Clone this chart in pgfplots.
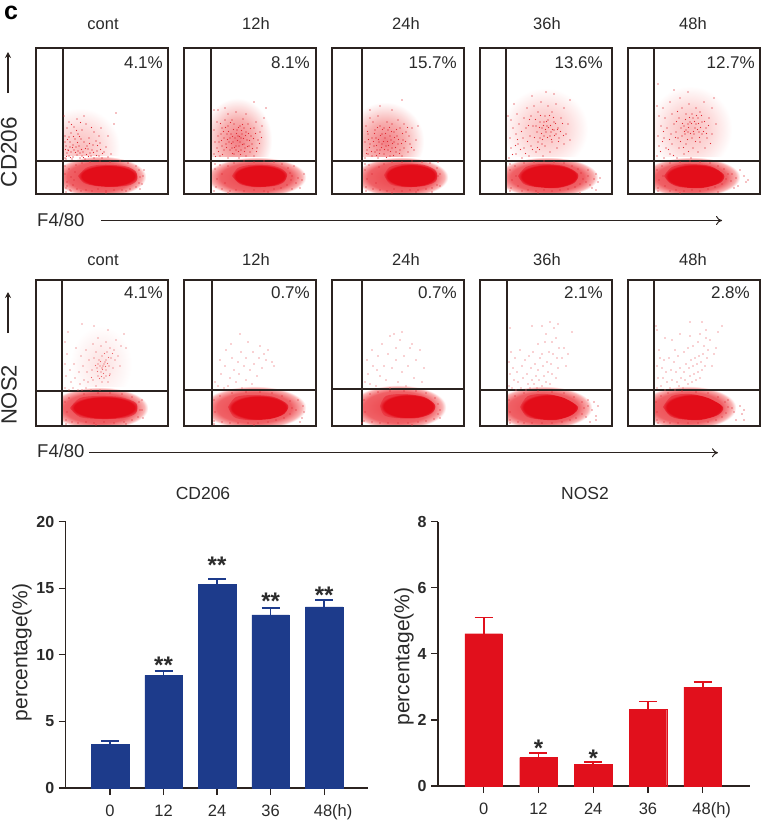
\documentclass[border=0pt]{standalone}
\usepackage{fontspec}
\setmainfont{Liberation Sans}
\usepackage{pgfplots}
\pgfplotsset{compat=1.18}
\usetikzlibrary{arrows.meta}
\definecolor{ink}{HTML}{2B2320}
\definecolor{txt}{HTML}{2A2A2A}
\definecolor{fdot}{HTML}{DF2B34}
\definecolor{fpink}{HTML}{EA6468}
\definecolor{cdblue}{HTML}{1D3B8B}
\definecolor{nosred}{HTML}{E1101C}
\pgfdeclareradialshading{coreblob}{\pgfpointorigin}{rgb(0bp)=(0.89,0.05,0.10); rgb(22bp)=(0.89,0.05,0.10); rgb(25bp)=(0.92,0.22,0.26); rgb(50bp)=(0.92,0.22,0.26)}
\pgfdeclareradialshading{fringe}{\pgfpointorigin}{rgb(0bp)=(0.92,0.24,0.27); rgb(18bp)=(0.94,0.38,0.40); rgb(23bp)=(0.98,0.70,0.70); rgb(25bp)=(1,1,1); rgb(50bp)=(1,1,1)}
\pgfdeclareradialshading{cloudA}{\pgfpointorigin}{rgb(0bp)=(0.95,0.50,0.52); rgb(12bp)=(0.97,0.68,0.68); rgb(25bp)=(1,1,1); rgb(50bp)=(1,1,1)}
\pgfdeclareradialshading{cloudB}{\pgfpointorigin}{rgb(0bp)=(0.98,0.74,0.74); rgb(12bp)=(0.99,0.84,0.84); rgb(25bp)=(1,1,1); rgb(50bp)=(1,1,1)}
\pgfdeclareradialshading{cloudC}{\pgfpointorigin}{rgb(0bp)=(0.99,0.88,0.88); rgb(25bp)=(1,1,1); rgb(50bp)=(1,1,1)}
\pgfplotsset{
  flow/.style={anchor=south west,scale only axis,width=132pt,height=146pt,
    xmin=0,xmax=132,ymin=0,ymax=146,ticks=none,axis on top,
    axis line style={ink,line width=1.3pt}},
  bars/.style={anchor=south west,scale only axis,axis lines=left,
    axis line style={ink,line width=1.2pt,-},
    tick style={ink,line width=1.2pt},tick align=outside,major tick length=7pt,
    xtick={0,1,2,3,4},ytick pos=left,xtick pos=bottom,
    ymin=0,clip=false,
    yticklabel style={font=\fontsize{16}{16}\selectfont\bfseries,text=txt,xshift=-1pt},
    xticklabel style={font=\fontsize{16.5}{16}\selectfont,text=txt,yshift=-6pt},
    ylabel style={font=\fontsize{21}{21}\selectfont,text=txt,anchor=center},
    /pgf/number format/assume math mode=true},
}
\tikzset{
  blob/.style={draw=none,no marks,shade,shading=#1},
  core/.style={draw=none,no marks,smooth,shade,shading=coreblob},
  dots/.style={only marks,mark=*,mark size=0.42pt,fdot,mark options={draw=none,fill=fdot}},
  lite/.style={only marks,mark=*,mark size=0.42pt,fpink,mark options={draw=none,fill=fpink}},
  cover/.style={draw=none,fill=white,no marks},
  gate/.style={ink,line width=1.3pt,no marks},
  lab/.style={text=txt,inner sep=0pt},
  star/.style={font=\fontsize{24}{24}\selectfont\bfseries,text=txt},
}
\newcommand{\fs}[1]{\fontsize{#1}{#1}\selectfont}
\begin{document}
\begin{tikzpicture}[x=1pt,y=1pt]
\path[use as bounding box] (0,-827) rectangle (762,0);

% --- CD206 row
\begin{axis}[flow,at={(36pt,-194pt)}]
\addplot[blob=cloudB] coordinates {(4,6)(84,6)(84,86)(4,86)(4,6)};
\addplot[blob=fringe] coordinates {(18,-3)(110,-3)(110,38)(18,38)(18,-3)};
\addplot[core] coordinates {(42,18)(50,26)(62,29)(78,29)(92,27)(100,22)(101,14)(94,9)(78,7)(60,8)(48,11)(42,18)};
\addplot[dots] coordinates {(29,36)(31,41)(33,38)(36,35)(38,44)(30,48)(34,52)(41,39)(44,36)(47,42)(43,48)(39,55)(29,58)(35,61)(42,60)(48,52)(52,45)(55,38)(58,36)(61,43)(57,49)(53,56)(46,64)(38,67)(31,66)(50,70)(58,62)(64,51)(68,42)(72,37)(66,36)(63,58)(70,47)(75,40)(49,35)(37,49)(32,44)(45,55)(54,41)(60,53)(33,72)(41,75)(48,78)(65,66)(72,58)(78,70)(80,81)(29,52)(35,42)(40,47)(46,38)(51,48)(30,35)(37,37)(42,43)(33,57)(56,44)(63,38)(34,47)(44,41)(28,78)
(30.5,37.5)(32.5,43.5)(34.5,36.5)(39.5,41.5)(36.5,46.5)(41.5,51.5)(45.5,44.5)(47.5,36.5)(50.5,39.5)(52.5,37.5)(29.5,44.5)(31.5,54.5)(37.5,57.5)(43.5,57.5)(49.5,45.5)(53.5,50.5)(57.5,41.5)(60.5,38.5)(64.5,44.5)(66.5,40.5)(40.5,63.5)(35.5,69.5)(44.5,71.5)(55.5,66.5)(61.5,48.5)
(29,20)(31,12)(30,6)(33,25)(35,17)(37,9)(34,4)(40,29)(39,22)(38,14)(41,5)(45,3)(50,4)(56,3)(62,5)(70,3)(78,4)(86,4)(94,5)(100,7)(103,11)(104,17)(103,24)(100,28)(92,31)(84,33)(74,32)(64,33)(54,32)(46,31)(106,10)(108,24)(30,2)(70,1)(90,3)(104,5)(107,18)(29,28)(31,8)(35,3)};
\addplot[cover] coordinates {(0,0)(27,0)(27,146)(0,146)(0,0)};
\addplot[gate] coordinates {(27,0)(27,146)};
\addplot[gate] coordinates {(0,33)(132,33)};
\end{axis}

\begin{axis}[flow,at={(184pt,-194pt)}]
\addplot[blob=cloudA] coordinates {(18,12)(88,12)(88,96)(18,96)(18,12)};
\addplot[blob=fringe] coordinates {(22,-3)(122,-3)(122,37)(22,37)(22,-3)};
\addplot[core] coordinates {(48,18)(54,26)(66,29)(84,29)(96,26)(103,20)(100,12)(90,8)(70,7)(56,10)(48,18)};
\addplot[dots] coordinates {(30,40)(33,46)(31,52)(34,58)(30,64)(33,72)(30,84)(36,38)(38,48)(40,56)(38,66)(41,74)(44,36)(46,44)(45,52)(47,60)(44,68)(48,74)(50,40)(52,48)(51,56)(53,64)(50,70)(55,36)(57,44)(56,52)(58,60)(56,68)(59,75)(62,38)(61,46)(63,54)(62,62)(64,70)(66,42)(68,50)(67,58)(70,66)(72,72)(70,38)(73,46)(74,54)(76,62)(78,68)(80,76)(82,86)(70,92)(42,50)(49,52)(54,58)(48,46)(43,60)(60,50)(52,44)(35,52)(46,56)(57,56)(40,44)(65,48)(37,60)(55,48)(60,66)(44,80)(52,82)(62,80)(34,84)(41,86)
(31.5,37.5)(34.5,42.5)(37.5,53.5)(39.5,62.5)(42.5,46.5)(43.5,54.5)(44.5,62.5)(46.5,71.5)(47.5,50.5)(48.5,57.5)(49.5,64.5)(50.5,46.5)(52.5,60.5)(53.5,53.5)(54.5,42.5)(54.5,66.5)(55.5,57.5)(57.5,63.5)(58.5,49.5)(59.5,55.5)(60.5,42.5)(61.5,58.5)(63.5,47.5)(64.5,60.5)(65.5,53.5)(66.5,65.5)(68.5,45.5)(69.5,55.5)(71.5,60.5)(72.5,42.5)(36.5,70.5)(41.5,66.5)(58.5,69.5)(75.5,50.5)(77.5,56.5)(48.5,40.5)(56.5,39.5)(38.5,39.5)
(31,25)(33,15)(32,7)(36,29)(38,20)(41,11)(38,5)(44,28)(46,3)(52,4)(60,3)(70,4)(80,3)(90,5)(97,6)(103,9)(107,14)(106,21)(108,18)(104,26)(98,30)(90,32)(80,33)(70,32)(60,33)(50,31)(110,28)(118,14)(116,6)(30,3)(44,1)(84,2)(108,5)(31,30)(120,20)(112,11)(114,16)};
\addplot[cover] coordinates {(0,0)(27,0)(27,146)(0,146)(0,0)};
\addplot[gate] coordinates {(27,0)(27,146)};
\addplot[gate] coordinates {(0,33)(132,33)};
\end{axis}

\begin{axis}[flow,at={(332pt,-194pt)}]
\addplot[blob=cloudA] coordinates {(14,14)(92,14)(92,92)(14,92)(14,14)};
\addplot[blob=fringe] coordinates {(22,-3)(116,-3)(116,37)(22,37)(22,-3)};
\addplot[core] coordinates {(52,19)(58,27)(72,30)(92,29)(104,23)(104,13)(92,8)(72,7)(58,10)(52,19)};
\addplot[dots] coordinates {(33,36)(35,44)(33,52)(36,60)(34,68)(38,76)(40,38)(42,48)(40,56)(43,64)(41,72)(46,36)(48,44)(47,52)(50,60)(48,68)(46,78)(52,40)(54,48)(53,56)(56,64)(55,72)(58,38)(60,46)(59,54)(62,62)(60,70)(64,42)(66,50)(65,58)(68,66)(66,74)(70,38)(72,46)(71,54)(74,62)(72,70)(76,42)(78,50)(77,58)(80,66)(82,44)(84,54)(56,44)(50,50)(44,56)(62,52)(38,50)(45,44)(58,58)(52,66)(36,40)(43,42)(68,44)(48,88)(70,94)(60,84)(86,68)(38,84)
(34.5,40.5)(37.5,46.5)(39.5,42.5)(41.5,52.5)(42.5,60.5)(44.5,38.5)(44.5,48.5)(45.5,66.5)(46.5,54.5)(47.5,40.5)(48.5,58.5)(49.5,46.5)(50.5,64.5)(51.5,52.5)(52.5,44.5)(53.5,60.5)(54.5,36.5)(55.5,52.5)(56.5,48.5)(57.5,66.5)(58.5,42.5)(59.5,62.5)(60.5,50.5)(61.5,38.5)(62.5,56.5)(63.5,46.5)(64.5,64.5)(66.5,54.5)(67.5,40.5)(69.5,50.5)(70.5,60.5)(73.5,52.5)(75.5,66.5)(79.5,46.5)(36.5,54.5)(35.5,62.5)
(33,24)(35,15)(34,7)(37,29)(40,20)(44,11)(41,5)(47,27)(48,4)(55,3)(62,5)(70,3)(78,4)(86,4)(94,5)(100,6)(105,9)(106,18)(105,26)(98,31)(90,32)(80,33)(70,32)(60,32)(52,30)(108,8)(106,32)(34,3)(60,1)(84,2)(100,2)(33,30)(108,20)};
\addplot[cover] coordinates {(0,0)(30,0)(30,146)(0,146)(0,0)};
\addplot[gate] coordinates {(30,0)(30,146)};
\addplot[gate] coordinates {(0,33)(132,33)};
\end{axis}

\begin{axis}[flow,at={(480pt,-194pt)}]
\addplot[blob=cloudB] coordinates {(22,24)(108,24)(108,106)(22,106)(22,24)};
\addplot[blob=fringe] coordinates {(16,-3)(118,-3)(118,37)(16,37)(16,-3)};
\addplot[core] coordinates {(38,18)(46,27)(62,30)(84,28)(98,20)(94,11)(78,6)(56,7)(44,10)(38,18)};
\addplot[dots] coordinates {(29,36)(31,46)(30,56)(33,66)(31,74)(36,40)(38,50)(36,60)(39,70)(37,80)(42,36)(44,46)(43,56)(46,66)(44,76)(47,86)(49,38)(51,48)(50,58)(53,68)(51,78)(54,88)(56,42)(58,52)(57,62)(60,72)(58,82)(61,92)(63,38)(65,48)(64,58)(67,68)(65,78)(68,88)(70,42)(72,52)(71,62)(74,72)(72,82)(76,90)(77,46)(79,56)(78,66)(81,76)(84,86)(84,50)(86,60)(88,70)(90,54)(66,62)(62,66)(70,58)(60,56)(68,74)(74,64)(64,72)(56,68)(76,60)(62,50)(34,90)(52,98)(66,102)(74,100)(90,94)(28,78)
(32.5,39.5)(35.5,48.5)(37.5,54.5)(40.5,44.5)(41.5,62.5)(45.5,40.5)(47.5,52.5)(48.5,68.5)(49.5,74.5)(52.5,44.5)(54.5,56.5)(55.5,74.5)(57.5,46.5)(59.5,66.5)(60.5,78.5)(61.5,60.5)(62.5,54.5)(63.5,68.5)(65.5,64.5)(66.5,72.5)(67.5,56.5)(68.5,66.5)(69.5,78.5)(70.5,68.5)(71.5,54.5)(72.5,64.5)(73.5,76.5)(74.5,58.5)(75.5,70.5)(77.5,64.5)(78.5,52.5)(80.5,62.5)(82.5,70.5)(83.5,58.5)(59.5,44.5)
(30,24)(32,14)(31,6)(35,28)(36,18)(38,8)(42,3)(48,4)(56,3)(64,4)(72,3)(80,4)(88,5)(95,7)(100,10)(103,15)(101,21)(98,25)(92,28)(84,31)(74,32)(64,33)(54,32)(44,31)(106,12)(108,18)(112,6)(116,20)(118,12)(108,24)(116,4)(120,16)(30,3)(58,1)(100,1)(30,30)(110,9)(114,15)};
\addplot[cover] coordinates {(0,0)(26,0)(26,146)(0,146)(0,0)};
\addplot[gate] coordinates {(26,0)(26,146)};
\addplot[gate] coordinates {(0,33)(132,33)};
\end{axis}

\begin{axis}[flow,at={(628pt,-194pt)}]
\addplot[blob=cloudB] coordinates {(20,22)(104,22)(104,108)(20,108)(20,22)};
\addplot[blob=fringe] coordinates {(14,-3)(112,-3)(112,37)(14,37)(14,-3)};
\addplot[core] coordinates {(36,18)(44,27)(60,30)(82,28)(96,19)(92,11)(74,6)(52,7)(42,11)(36,18)};
\addplot[dots] coordinates {(29,38)(31,48)(30,58)(33,68)(31,78)(29,88)(36,36)(38,46)(36,56)(39,66)(37,76)(35,86)(42,40)(44,50)(43,60)(46,70)(44,80)(42,92)(49,36)(51,46)(50,56)(53,66)(51,76)(54,86)(52,96)(56,40)(58,50)(57,60)(60,70)(58,80)(61,90)(63,36)(65,46)(64,56)(67,66)(65,76)(68,86)(70,42)(72,52)(71,62)(74,72)(72,82)(76,92)(77,46)(79,56)(78,66)(81,76)(84,86)(84,60)(88,70)(60,62)(56,68)(66,60)(62,72)(68,70)(58,64)(64,80)(54,58)(70,76)(48,62)(74,60)(60,102)(46,104)(30,110)(86,96)
(32.5,42.5)(34.5,52.5)(35.5,62.5)(40.5,44.5)(41.5,54.5)(45.5,38.5)(47.5,56.5)(48.5,72.5)(49.5,82.5)(52.5,52.5)(54.5,70.5)(55.5,46.5)(56.5,62.5)(57.5,74.5)(59.5,54.5)(60.5,66.5)(61.5,76.5)(62.5,60.5)(63.5,70.5)(65.5,62.5)(66.5,72.5)(67.5,52.5)(68.5,78.5)(69.5,64.5)(70.5,70.5)(71.5,56.5)(72.5,66.5)(73.5,78.5)(75.5,62.5)(76.5,72.5)(78.5,60.5)(80.5,68.5)(82.5,50.5)(60.5,42.5)
(29,24)(31,14)(30,6)(34,28)(35,18)(37,8)(42,3)(48,4)(56,3)(64,4)(72,3)(80,5)(87,7)(94,10)(98,15)(100,20)(96,25)(90,28)(82,31)(72,32)(62,33)(52,32)(42,31)(104,20)(110,8)(116,18)(118,12)(112,24)(106,6)(120,14)(30,3)(52,1)(90,2)(103,13)(108,16)};
\addplot[cover] coordinates {(0,0)(26,0)(26,146)(0,146)(0,0)};
\addplot[gate] coordinates {(26,0)(26,146)};
\addplot[gate] coordinates {(0,33)(132,33)};
\end{axis}

% --- NOS2 row
\begin{axis}[flow,at={(36pt,-426pt)}]
\addplot[blob=cloudC] coordinates {(34,24)(96,24)(96,100)(34,100)(34,24)};
\addplot[blob=fringe] coordinates {(14,-3)(112,-3)(112,39)(14,39)(14,-3)};
\addplot[core] coordinates {(34,18)(44,28)(62,30)(84,29)(100,23)(100,13)(88,8)(66,7)(44,9)(34,18)};
\addplot[lite] coordinates {(29,38)(30,50)(29,62)(31,72)(29,84)(33,36)(35,44)(34,56)(37,38)(39,48)(38,62)(40,78)(42,36)(44,42)(43,54)(46,36)(48,46)(47,60)(45,70)(50,38)(52,44)(51,54)(53,66)(50,76)(55,36)(57,46)(56,56)(58,68)(57,82)(60,40)(62,50)(61,58)(63,66)(60,74)(62,88)(64,36)(66,44)(65,54)(67,60)(66,70)(65,80)(68,48)(70,56)(69,64)(71,74)(70,84)(72,44)(74,52)(73,60)(75,68)(74,78)(72,96)(77,58)(79,66)(78,76)(80,86)(82,70)(84,60)(85,80)(88,92)(66,58)(68,62)(64,60)(70,50)(62,62)(70,66)(58,100)(46,102)(32,94)(90,78)
(63.5,47.5)(65.5,49.5)(67.5,52.5)(61.5,54.5)(64.5,64.5)(69.5,59.5)(71.5,62.5)(66.5,56.5)(73.5,50.5)(59.5,60.5)(55.5,48.5)(72.5,68.5)(76.5,72.5)(68.5,72.5)};
\addplot[dots] coordinates {(29,24)(31,14)(30,6)(33,28)(36,4)(42,3)(50,4)(58,3)(68,4)(78,3)(88,4)(96,6)(102,9)(104,16)(103,24)(96,29)(86,32)(74,33)(62,33)(48,32)(106,16)(107,8)(30,2)(60,1)(90,2)(106,26)};
\addplot[cover] coordinates {(0,0)(26,0)(26,146)(0,146)(0,0)};
\addplot[gate] coordinates {(26,0)(26,146)};
\addplot[gate] coordinates {(0,35)(132,35)};
\end{axis}

\begin{axis}[flow,at={(184pt,-426pt)}]
\addplot[blob=fringe] coordinates {(18,-3)(122,-3)(122,40)(18,40)(18,-3)};
\addplot[core] coordinates {(44,19)(52,29)(70,31)(90,29)(104,21)(100,12)(86,7)(64,6)(50,9)(44,19)};
\addplot[lite] coordinates {(31,44)(36,66)(37,52)(42,76)(41,60)(44,40)(46,48)(48,68)(47,82)(50,56)(52,44)(54,64)(55,52)(57,74)(58,38)(60,60)(62,46)(62,68)(64,84)(66,56)(68,42)(69,74)(70,62)(73,50)(75,68)(76,80)(78,58)(80,72)(82,66)(84,76)(88,64)(90,60)(40,38)(34,40)(56,92)};
\addplot[dots] coordinates {(30,26)(31,14)(30,5)(36,30)(38,4)(46,3)(54,3)(64,3)(74,3)(84,4)(92,6)(100,8)(106,12)(108,18)(106,25)(98,30)(88,33)(76,34)(62,34)(48,33)(118,8)(120,14)(119,20)(114,26)(116,4)(30,2)(70,1)(112,16)};
\addplot[cover] coordinates {(0,0)(28,0)(28,146)(0,146)(0,0)};
\addplot[gate] coordinates {(28,0)(28,146)};
\addplot[gate] coordinates {(0,36)(132,36)};
\end{axis}

\begin{axis}[flow,at={(332pt,-426pt)}]
\addplot[blob=fringe] coordinates {(18,-3)(114,-3)(114,41)(18,41)(18,-3)};
\addplot[core] coordinates {(48,20)(54,30)(72,32)(92,29)(103,21)(100,13)(86,8)(64,8)(52,11)(48,20)};
\addplot[lite] coordinates {(33,44)(35,66)(36,52)(40,76)(41,60)(44,40)(46,70)(48,50)(50,82)(52,60)(54,46)(56,72)(58,38)(60,58)(62,92)(64,66)(66,44)(68,86)(70,54)(72,70)(74,40)(76,60)(78,78)(80,82)(82,48)(84,66)(88,76)(92,58)(64,78)(90,44)(58,90)(70,94)(38,42)(45,56)};
\addplot[dots] coordinates {(32,26)(33,14)(32,5)(38,32)(40,4)(48,3)(56,3)(66,3)(76,3)(86,4)(94,5)(102,7)(106,12)(106,22)(103,28)(94,33)(84,35)(72,35)(58,35)(46,34)(30,3)(108,16)(108,8)(80,1)};
\addplot[cover] coordinates {(0,0)(30,0)(30,146)(0,146)(0,0)};
\addplot[gate] coordinates {(30,0)(30,146)};
\addplot[gate] coordinates {(0,37)(132,37)};
\end{axis}

\begin{axis}[flow,at={(480pt,-426pt)}]
\addplot[blob=fringe] coordinates {(14,-3)(112,-3)(112,40)(14,40)(14,-3)};
\addplot[core] coordinates {(40,19)(48,30)(66,32)(84,28)(98,19)(92,11)(76,6)(56,7)(46,10)(40,19)};
\addplot[lite] coordinates {(29,40)(30,52)(29,64)(32,38)(34,46)(33,58)(31,74)(36,36)(38,44)(37,54)(35,68)(41,38)(43,48)(42,60)(40,76)(46,36)(48,42)(47,52)(45,66)(50,38)(52,46)(51,58)(49,70)(54,42)(56,50)(55,62)(53,74)(57,38)(59,46)(58,56)(60,68)(58,82)(62,40)(64,50)(63,60)(62,72)(65,84)(66,44)(68,54)(67,64)(69,74)(66,92)(70,42)(72,52)(71,62)(73,72)(72,84)(74,98)(76,48)(78,58)(77,68)(79,78)(76,88)(82,68)(84,78)(86,60)(88,72)(52,100)(70,104)(78,102)(62,100)(92,94)(30,98)};
\addplot[dots] coordinates {(29,26)(30,14)(30,6)(35,30)(38,4)(44,3)(52,3)(62,3)(72,3)(82,4)(90,6)(96,8)(102,12)(104,18)(102,24)(94,29)(84,33)(72,34)(58,35)(44,33)(108,26)(112,16)(116,10)(116,6)(118,20)(114,24)(110,4)(30,3)(106,9)(108,20)};
\addplot[cover] coordinates {(0,0)(27,0)(27,146)(0,146)(0,0)};
\addplot[gate] coordinates {(27,0)(27,146)};
\addplot[gate] coordinates {(0,36)(132,36)};
\end{axis}

\begin{axis}[flow,at={(628pt,-426pt)}]
\addplot[blob=fringe] coordinates {(12,-3)(108,-3)(108,40)(12,40)(12,-3)};
\addplot[core] coordinates {(35,19)(44,30)(62,32)(80,28)(95,19)(90,11)(72,6)(52,7)(42,10)(35,19)};
\addplot[lite] coordinates {(29,38)(30,48)(29,60)(31,76)(29,96)(33,40)(35,48)(34,58)(32,68)(37,36)(39,44)(38,54)(36,66)(37,88)(42,38)(44,46)(43,56)(41,68)(44,86)(47,36)(49,44)(48,54)(46,64)(47,76)(51,40)(53,48)(52,58)(50,70)(52,92)(55,38)(57,46)(56,54)(58,62)(56,74)(60,42)(62,50)(61,58)(63,66)(60,78)(62,90)(64,44)(66,52)(65,60)(67,68)(65,80)(68,46)(70,54)(69,62)(71,70)(70,84)(72,48)(74,56)(73,64)(75,72)(72,92)(76,80)(77,60)(79,68)(78,88)(80,76)(82,86)(78,96)(84,60)(86,72)(88,78)(90,94)(74,104)(62,104)(28,100)(94,100)};
\addplot[dots] coordinates {(28,24)(29,14)(29,6)(33,30)(36,4)(42,3)(50,3)(60,3)(70,3)(80,4)(88,6)(94,9)(98,13)(100,19)(97,24)(90,29)(80,33)(68,34)(54,35)(40,33)(100,26)(106,14)(112,20)(114,12)(116,6)(108,6)(116,16)(30,3)(104,18)};
\addplot[cover] coordinates {(0,0)(26,0)(26,146)(0,146)(0,0)};
\addplot[gate] coordinates {(26,0)(26,146)};
\addplot[gate] coordinates {(0,36)(132,36)};
\end{axis}

% --- bars
\begin{axis}[bars,at={(65.7pt,-788pt)},width=302.3pt,height=266.3pt,
  xmin=-0.828,xmax=4.82,ymax=20,ytick={0,5,10,15,20},
  xticklabels={0,12,24,36,\hspace{18pt}48(h)},ylabel={percentage(\%)},
  ylabel style={at={(axis description cs:-0.1446,0.51)}}]
\addplot[ybar,bar width=37.5pt,fill=cdblue,draw=cdblue,line width=0.3pt,
  error bars/.cd,y dir=plus,y explicit,error bar style={cdblue,line width=1.8pt},
  error mark options={cdblue,line width=1.8pt,mark size=9pt,rotate=90}]
  coordinates {(0,3.3) +- (0,0.23) (1,8.45) +- (0,0.35) (2,15.3) +- (0,0.4) (3,13.0) +- (0,0.5) (4,13.6) +- (0,0.5)};
\node[star] at (axis cs:1,9.25) {**};
\node[star] at (axis cs:2,16.7) {**};
\node[star] at (axis cs:3,14.05) {**};
\node[star] at (axis cs:4,14.5) {**};
\end{axis}

\begin{axis}[bars,at={(438pt,-786pt)},width=312pt,height=264.3pt,
  xmin=-0.835,xmax=4.864,ymax=8,ytick={0,2,4,6,8},
  xticklabels={0,12,24,36,\hspace{18pt}48(h)},ylabel={percentage(\%)},
  ylabel style={at={(axis description cs:-0.109,0.49)}}]
\addplot[ybar,bar width=37.5pt,fill=nosred,draw=nosred,line width=0.3pt,
  error bars/.cd,y dir=plus,y explicit,error bar style={nosred,line width=1.8pt},
  error mark options={nosred,line width=1.8pt,mark size=9pt,rotate=90}]
  coordinates {(0,4.61) +- (0,0.49) (1,0.86) +- (0,0.14) (2,0.66) +- (0,0.06) (3,2.33) +- (0,0.23) (4,2.99) +- (0,0.17)};
\node[star] at (axis cs:1,1.15) {*};
\node[star] at (axis cs:2,0.85) {*};
\end{axis}

% --- text and arrows
\node[lab,font=\fs{25}\bfseries,text=black] at (11,-13) {c};
\foreach \x/\t in {103/cont,256/12h,406/24h,547/36h,693/48h}{
  \node[lab,font=\fs{16.5}] at (\x,-24) {\t};
  \node[lab,font=\fs{16.5}] at (\x,-260) {\t};
}
\foreach \x/\t in {163/4.1\%,310/8.1\%,457/15.7\%,603/13.6\%,755/12.7\%}{
  \node[lab,font=\fs{17},anchor=east] at (\x,-63) {\t};
}
\foreach \x/\t in {163/4.1\%,310/0.7\%,457/0.7\%,603/2.1\%,750/2.8\%}{
  \node[lab,font=\fs{17},anchor=east] at (\x,-293) {\t};
}
\node[lab,font=\fs{22.5},rotate=90] at (9,-152) {CD206};
\node[lab,font=\fs{22},rotate=90] at (9,-395) {NOS2};
\draw[ink,line width=1.1pt,-{Stealth[length=6pt,width=6pt]}] (8,-93) -- (8,-52);
\draw[ink,line width=1.1pt,-{Stealth[length=6pt,width=6pt]}] (8,-333) -- (8,-292);
\node[lab,font=\fs{18.5},anchor=west] at (37,-220) {F4/80};
\node[lab,font=\fs{18.5},anchor=west] at (37,-451) {F4/80};
\draw[ink,line width=1pt,-{To[length=6pt,width=9pt]}] (101,-220.5) -- (722,-220.5);
\draw[ink,line width=1pt,-{To[length=6pt,width=9pt]}] (89,-452.7) -- (718,-452.7);
\node[lab,font=\fs{17.5}] at (203,-493) {CD206};
\node[lab,font=\fs{17.5}] at (585,-493) {NOS2};
\end{tikzpicture}
\end{document}
